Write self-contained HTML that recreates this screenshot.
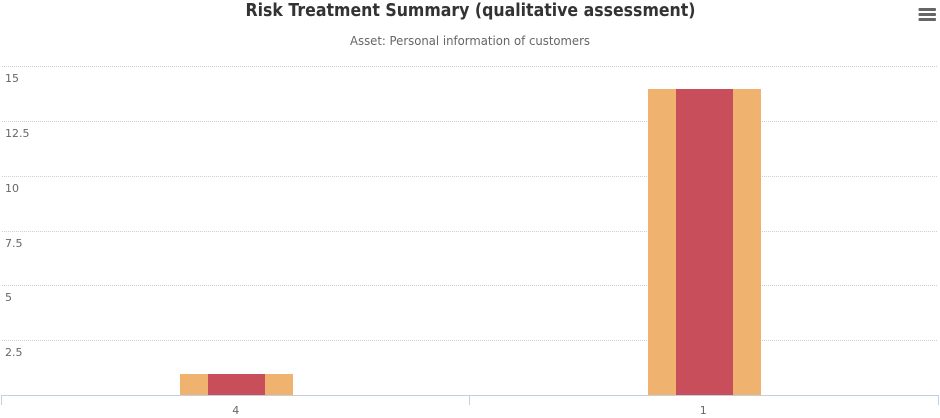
<!DOCTYPE html>
<html>
<head>
<meta charset="utf-8">
<style>
html,body{margin:0;padding:0;background:#fff;width:940px;height:418px;overflow:hidden}
svg{display:block}
text{font-family:"DejaVu Sans","Liberation Sans",sans-serif}
</style>
</head>
<body>
<svg id="chart" width="940" height="418" viewBox="0 0 940 418" xmlns="http://www.w3.org/2000/svg">
  <rect x="0" y="0" width="940" height="418" fill="#ffffff"/>
  <text x="470.5" y="16" text-anchor="middle" font-size="18" font-weight="bold" fill="#333333" textLength="450" lengthAdjust="spacingAndGlyphs">Risk Treatment Summary (qualitative assessment)</text>
  <text x="470" y="45" text-anchor="middle" font-size="12" fill="#666666" textLength="240" lengthAdjust="spacingAndGlyphs">Asset: Personal information of customers</text>
  <g id="grid"></g>
  <g id="bars"></g>
  <g id="axis"></g>
  <g fill="#666666">
    <rect x="918.5" y="8" width="17.5" height="3" rx="1"/>
    <rect x="918.5" y="13" width="17.5" height="3" rx="1"/>
    <rect x="918.5" y="18" width="17.5" height="3" rx="1"/>
  </g>
</svg>
<script>
const categories = ['4', '1'];
const outerValues = [1, 14];
const innerValues = [1, 14];
const yTicks = [2.5, 5, 7.5, 10, 12.5, 15];
const yTickLabels = ['2.5', '5', '7.5', '10', '12.5', '15'];

const NS = 'http://www.w3.org/2000/svg';
const plotBase = 395, plotTop = 66, yMax = 15;
const barLeft = 2.5, barBand = 468;
const labelLeft = 2, labelBand = 467.5;
const outerWidth = 113, innerWidth = 57;
const yScale = v => plotBase - (v / yMax) * (plotBase - plotTop);
const barCenter = i => barLeft + barBand * (i + 0.5);
const labelCenter = i => labelLeft + labelBand * (i + 0.5);

function make(tag, attrs, parent) {
  const el = document.createElementNS(NS, tag);
  for (const k in attrs) el.setAttribute(k, attrs[k]);
  parent.appendChild(el);
  return el;
}

const grid = document.getElementById('grid');
yTicks.forEach((t, i) => {
  const y = Math.round(yScale(t)) + 0.5;
  const line = make('line', {x1: 2, x2: 938, y1: y, y2: y, stroke: '#d0d0d0', 'stroke-width': 1, 'stroke-dasharray': '1,1'}, grid);
  
  
  const label = make('text', {x: 5, y: y + 15.5, 'font-size': 11, fill: '#666666'}, grid);
  
  
  label.textContent = yTickLabels[i];
});

const bars = document.getElementById('bars');
categories.forEach((c, i) => {
  const cx = barCenter(i);
  const yo = Math.round(yScale(outerValues[i])) + 1;
  const outer = make('rect', {x: cx - outerWidth / 2, y: yo, width: outerWidth, height: plotBase - yo, fill: '#f0b36f'}, bars);
  
  
  const yi = Math.round(yScale(innerValues[i])) + 1;
  const inner = make('rect', {x: cx - innerWidth / 2, y: yi, width: innerWidth, height: plotBase - yi, fill: '#c84e5b'}, bars);
  
  
});

const axis = document.getElementById('axis');
const axisLine = make('line', {x1: 1, x2: 939, y1: 395.5, y2: 395.5, stroke: '#c0d0e0', 'stroke-width': 1}, axis);


for (let i = 0; i <= categories.length; i++) {
  const x = Math.floor(1 + 468.5 * i) + 0.5;
  const tick = make('line', {x1: x, x2: x, y1: 395, y2: 405, stroke: '#c0d0e0', 'stroke-width': 1}, axis);
  
  
}
categories.forEach((c, i) => {
  const label = make('text', {x: labelCenter(i), y: 414, 'text-anchor': 'middle', 'font-size': 11, fill: '#666666'}, axis);
  
  
  label.textContent = c;
});
</script>
</body>
</html>
